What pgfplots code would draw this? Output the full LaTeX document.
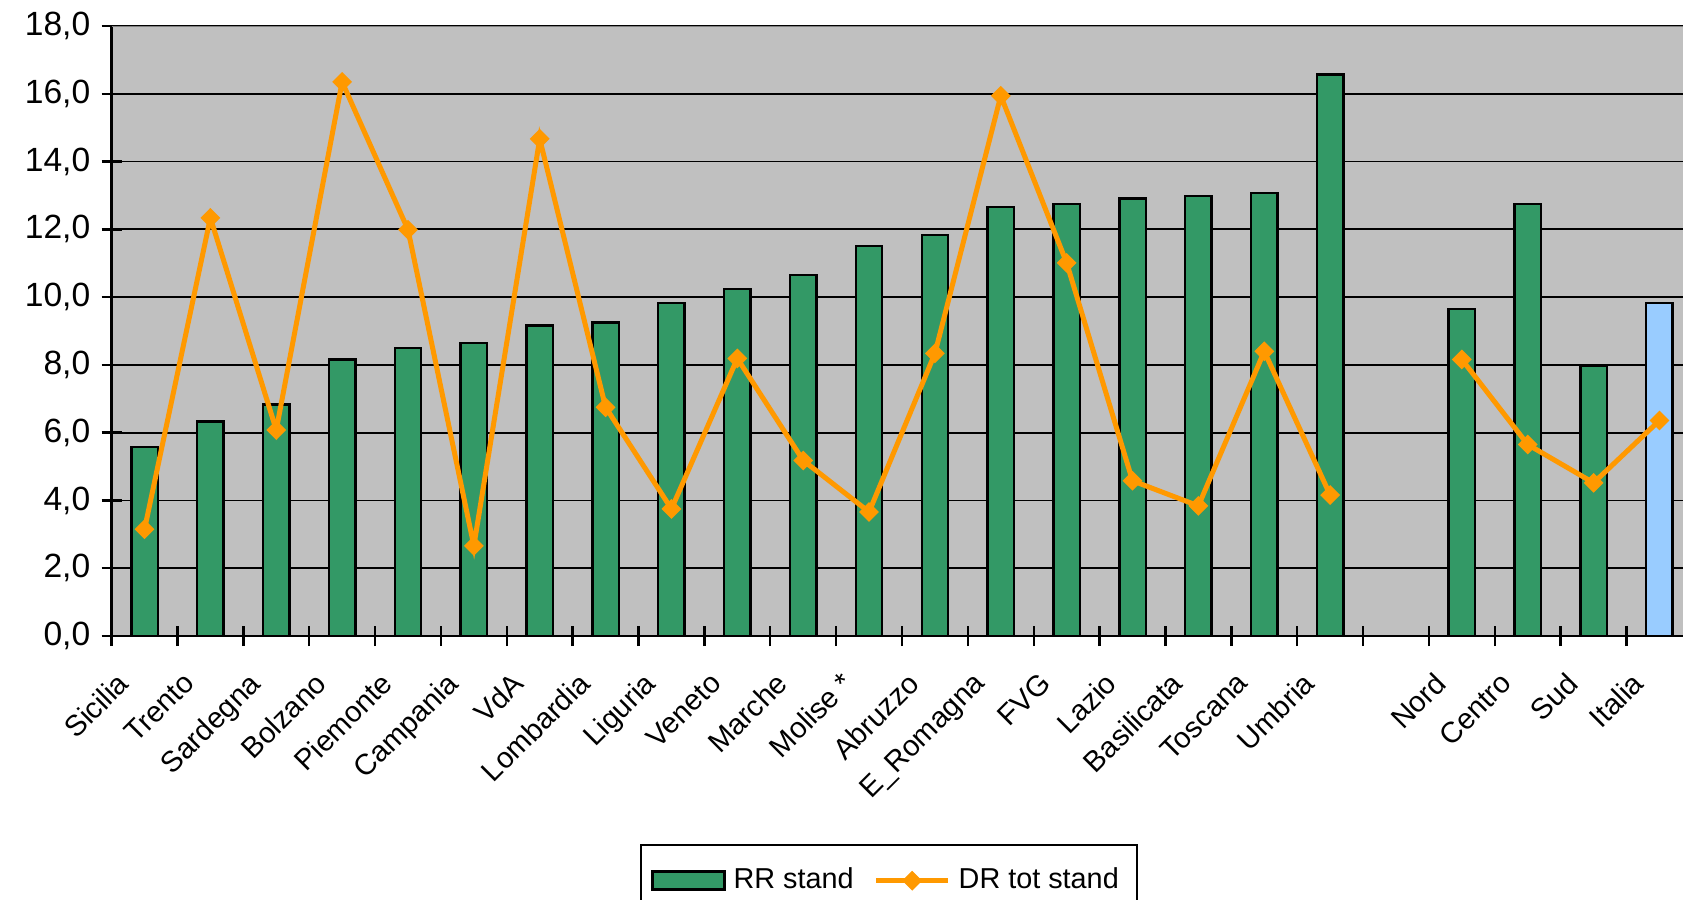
\documentclass[border=0pt]{standalone}
\usepackage{fontspec}
\setmainfont{Liberation Sans}
\usepackage{pgfplots}
\pgfplotsset{compat=1.18}
\definecolor{barGreen}{RGB}{51,153,102}
\definecolor{lineOrange}{RGB}{255,153,0}
\definecolor{italiaBlue}{RGB}{153,204,255}
\definecolor{plotGray}{RGB}{192,192,192}
\definecolor{borderGray}{RGB}{128,128,128}
\pgfplotsset{
  rr legend img/.style={legend image code/.code={\draw[##1] (0pt,-2.25pt) rectangle (18pt,2.25pt);}},
  dr legend img/.style={legend image code/.code={\draw[mark repeat=2, mark phase=2, ##1]
      plot coordinates {(0pt,0pt) (9pt,0pt) (18pt,0pt)};}},
}

\begin{document}
\begin{tikzpicture}
\path[use as bounding box] (0,0) rectangle (420.75pt,225pt);
\begin{axis}[
    at={(27.9pt,66pt)}, anchor=south west,
    scale only axis, width=395.2pt, height=152.5pt,
    xmin=-0.5, xmax=23.5, ymin=0, ymax=18,
    axis lines*=left,
    axis line style={black, line width=0.6pt},
    axis background/.style={fill=plotGray},
    ymajorgrids, major grid style={black, line width=0.45pt},
    tick align=center,
    major tick length=0pt, minor tick length=5pt,
    tick style={black, line width=0.6pt},
    xtick={0,...,23},
    minor xtick={-0.5,0.5,...,23.5},
    xticklabels={Sicilia, Trento, Sardegna, Bolzano, Piemonte, Campania, VdA,
        Lombardia, Liguria, Veneto, Marche, Molise *, Abruzzo, E\_Romagna, FVG,
        Lazio, Basilicata, Toscana, Umbria, {}, Nord, Centro, Sud, Italia},
    xticklabel style={xshift=-7.25pt, yshift=-3.7pt, rotate=45, anchor=north east,
        font=\fontsize{7.3}{8.5}\selectfont},
    ytick={0,2,...,18},
    minor ytick={0,2,...,18},
    scaled y ticks=false,
    yticklabel style={xshift=-1.8pt, font=\fontsize{8.4}{10}\selectfont,
        /pgf/number format/fixed, /pgf/number format/fixed zerofill,
        /pgf/number format/precision=1, /pgf/number format/use comma,
        /pgf/number format/assume math mode=true},
    legend columns=2,
    legend style={at={(0.4918,-0.341)}, anchor=north, draw=black,
        line width=0.6pt, inner xsep=2.5pt, inner ysep=3.5pt,
        font=\fontsize{7.2}{8.5}\selectfont,
        /tikz/every even column/.append style={column sep=3pt}},
]
% RR stand
\addplot[ybar, bar width=0.4, bar shift=0pt, fill=barGreen, draw=black, line width=0.6pt,
    rr legend img]
    coordinates {
    (0,5.57) (1,6.33) (2,6.83) (3,8.16) (4,8.49) (5,8.65) (6,9.16) (7,9.25)
    (8,9.83) (9,10.24) (10,10.66) (11,11.50) (12,11.83) (13,12.66) (14,12.74)
    (15,12.91) (16,12.98) (17,13.07) (18,16.57)
    (20,9.65) (21,12.74) (22,7.96)
};
\addlegendentry{RR stand}
\addplot[ybar, bar width=0.4, bar shift=0pt, fill=italiaBlue, draw=black, line width=0.6pt, forget plot]
    coordinates {(23,9.83)};
% DR tot stand
\addplot[lineOrange, line width=1.25pt, mark=square*, mark size=1.6pt,
    mark options={rotate=45, fill=lineOrange, draw=lineOrange, line width=0.3pt},
    unbounded coords=jump, dr legend img]
    coordinates {
    (0,3.15) (1,12.34) (2,6.08) (3,16.35) (4,11.99) (5,2.66) (6,14.67) (7,6.75)
    (8,3.75) (9,8.19) (10,5.18) (11,3.66) (12,8.34) (13,15.94) (14,11.01)
    (15,4.58) (16,3.84) (17,8.40) (18,4.16) (19,nan)
    (20,8.16) (21,5.65) (22,4.52) (23,6.36)
};
\addlegendentry{DR tot stand}
\draw[borderGray, line width=0.4pt] (rel axis cs:0,1) -- (rel axis cs:1,1);
\end{axis}
\end{tikzpicture}
\end{document}
